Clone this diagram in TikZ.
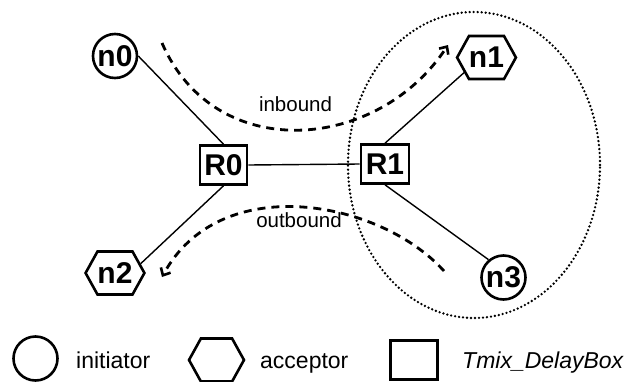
\documentclass[tikz,border=0pt]{standalone}
\usepackage{fontspec}
\setmainfont{Liberation Sans}
\usetikzlibrary{shapes.symbols,arrows.meta}
\begin{document}
\begin{tikzpicture}[x=1pt,y=-1pt,
  nodelabel/.style={font=\fontsize{30}{30}\selectfont\bfseries},
  initshape/.style={circle,draw,line width=2.6pt,minimum size=44pt,inner sep=0pt},
  accshape/.style={signal,signal to=east and west,signal pointer angle=122,draw,line width=2.6pt,minimum width=55pt,minimum height=43pt,inner sep=0pt},
  boxshape/.style={rectangle,draw,line width=2.6pt,minimum width=47pt,minimum height=39pt,inner sep=0pt},
  initiator/.style={initshape,nodelabel},
  acceptor/.style={accshape,nodelabel},
  delaybox/.style={boxshape,nodelabel},
  link/.style={line width=1.4pt},
  flow/.style={line width=2.8pt,dash pattern=on 8pt off 6pt,-{Straight Barb[length=6pt,width=11pt,line width=2.6pt]}},
  dotdomain/.style={line width=2.6pt,line cap=round,dash pattern=on 0pt off 4pt},
  txt/.style={font=\fontsize{20.5}{24}\selectfont,inner sep=0pt},
  legtxt/.style={font=\fontsize{23}{26}\selectfont,inner sep=0pt,anchor=base west}
]
\useasboundingbox (0,0) rectangle (627,381);

% nodes
\node[initiator] (n0) at (115,56) {n0};
\node[acceptor] (n1) at (486.5,57.5) {n1};
\node[acceptor] (n2) at (115,273) {n2};
\node[initiator] (n3) at (503.5,277.5) {n3};
\node[delaybox] (R0) at (223.5,165) {R0};
\node[delaybox,minimum width=48pt] (R1) at (385,164) {R1};

% domain ellipse
\draw[dotdomain] (474,165) ellipse [x radius=126pt, y radius=153pt];

% links
\draw[link] (n0.east) -- (R0.north);
\draw[link] (R0.south) -- (n2.20);
\draw[link] (R0.east) -- (R1.west);
\draw[link] (R1.north) -- (n1.214);
\draw[link] (R1.south) -- (n3.130);

% flows
\coordinate (inS) at (162,43);
\coordinate (inE) at (448,45);
\coordinate (outS) at (444,271);
\coordinate (outE) at (162,277);
\draw[flow] (inS) .. controls (215,165) and (378,152) .. (inE);
\draw[flow] (outS) .. controls (380,200) and (220,170) .. (outE);
\node[txt,anchor=base] (lin) at (295.5,111) {inbound};
\node[txt,anchor=base] (lout) at (299,227) {outbound};

% legend
\node[initshape] (lgC) at (35.5,358.5) {};
\node[legtxt] (lgCt) at (76,368) {initiator};
\node[accshape] (lgH) at (216.5,360) {};
\node[legtxt] (lgHt) at (260,368) {acceptor};
\node[boxshape] (lgB) at (414,360) {};
\node[legtxt,font=\fontsize{23}{26}\selectfont\itshape] (lgBt) at (462,368) {Tmix\_DelayBox};
\end{tikzpicture}
\end{document}
